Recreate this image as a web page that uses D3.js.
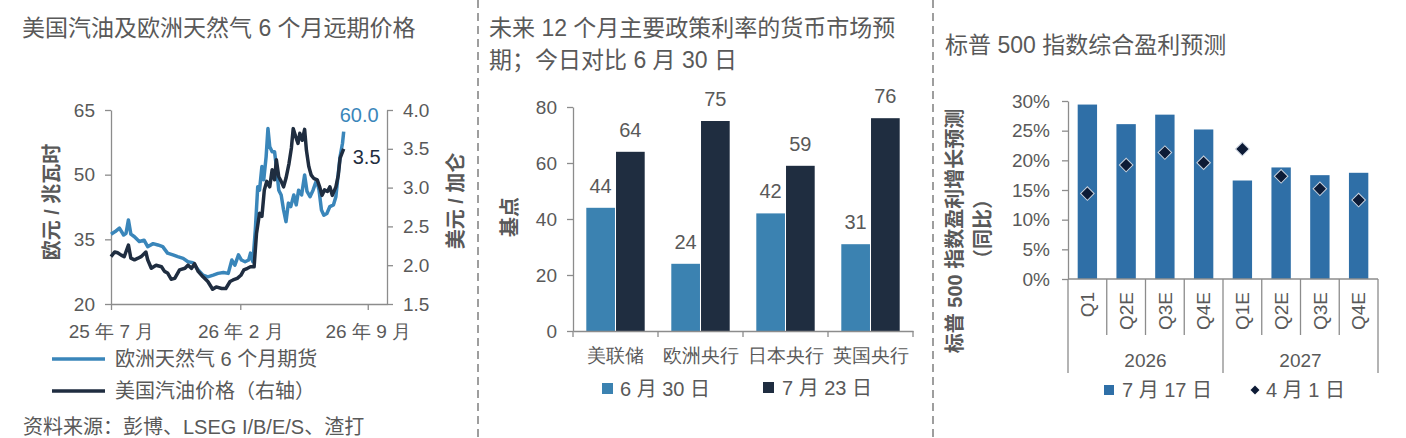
<!DOCTYPE html>
<html>
<head>
<meta charset="utf-8">
<script src="https://cdn.jsdelivr.net/npm/d3@7"></script>
<style>
  body { margin: 0; background: #fff; }
  svg { display: block; font-family: "Liberation Sans", Arial, "Noto Sans CJK SC", sans-serif; }
  .axis path, .axis line { stroke: #8c8c8c; stroke-width: 1.3; }
  .axis text { fill: #595959; font-size: 19px; font-family: inherit; }
</style>
</head>
<body>
<div id="chart"></div>
<script>
// ---- panel 1: gas / gasoline ----
const gasDates = ["2025-07-01","2025-07-08","2025-07-15","2025-07-22","2025-07-26","2025-07-30","2025-08-03","2025-08-09","2025-08-17","2025-08-25","2025-08-31","2025-09-09","2025-09-17","2025-09-25","2025-10-03","2025-10-12","2025-10-20","2025-10-29","2025-11-06","2025-11-14","2025-11-23","2025-12-01","2025-12-09","2025-12-18","2025-12-26","2026-01-04","2026-01-12","2026-01-18","2026-01-23","2026-01-29","2026-02-03","2026-02-09","2026-02-15","2026-02-18","2026-02-22","2026-02-26","2026-03-02","2026-03-05","2026-03-09","2026-03-12","2026-03-16","2026-03-19","2026-03-22","2026-03-26","2026-03-30","2026-04-02","2026-04-06","2026-04-10","2026-04-14","2026-04-18","2026-04-22","2026-04-26","2026-05-01","2026-05-05","2026-05-09","2026-05-14","2026-05-19","2026-05-23","2026-05-28","2026-06-02","2026-06-08","2026-06-12","2026-06-16","2026-06-20","2026-06-25","2026-06-30","2026-07-06","2026-07-10","2026-07-14","2026-07-17","2026-07-21","2026-07-23"];
const gasValues = [36.2,36.8,37.6,36.0,36.4,39.5,36.2,35.6,34.5,34.8,33.3,34.0,33.7,33.3,31.8,31.4,31.0,30.6,29.8,29.6,27.9,26.7,26.3,26.7,27.1,27.3,27.1,30.2,29.0,31.4,30.2,29.8,30.2,31.8,29.8,37.2,47.2,46.4,51.9,48.8,54.2,60.7,56.5,55.3,55.3,51.9,46.4,45.3,41.8,39.1,43.4,42.6,45.3,43.0,46.4,45.3,49.9,46.1,44.9,46.4,48.8,46.4,41.8,40.6,41.0,42.6,43.0,44.9,50.3,54.2,57.3,60.0];

const gasolineDates = ["2025-07-01","2025-07-07","2025-07-12","2025-07-18","2025-07-23","2025-07-30","2025-08-03","2025-08-09","2025-08-15","2025-08-20","2025-08-28","2025-08-31","2025-09-06","2025-09-14","2025-09-23","2025-09-28","2025-10-03","2025-10-09","2025-10-15","2025-10-23","2025-11-01","2025-11-06","2025-11-12","2025-11-17","2025-11-23","2025-12-01","2025-12-09","2025-12-17","2025-12-23","2026-01-01","2026-01-08","2026-01-15","2026-01-20","2026-01-27","2026-02-02","2026-02-07","2026-02-13","2026-02-18","2026-02-24","2026-02-28","2026-03-05","2026-03-09","2026-03-13","2026-03-17","2026-03-22","2026-03-26","2026-03-30","2026-04-02","2026-04-06","2026-04-10","2026-04-14","2026-04-18","2026-04-23","2026-04-27","2026-04-30","2026-05-04","2026-05-08","2026-05-11","2026-05-15","2026-05-19","2026-05-22","2026-05-26","2026-05-30","2026-06-03","2026-06-09","2026-06-13","2026-06-17","2026-06-21","2026-06-26","2026-06-30","2026-07-04","2026-07-10","2026-07-14","2026-07-17","2026-07-21","2026-07-23"];
const gasolineValues = [2.11,2.17,2.16,2.13,2.11,2.26,2.09,2.07,2.09,2.11,2.17,2.07,1.96,2.00,1.98,1.92,1.90,1.82,1.83,1.94,1.96,2.00,1.96,2.02,1.92,1.85,1.79,1.69,1.72,1.70,1.70,1.79,1.81,1.83,1.87,1.94,1.96,1.98,1.98,2.41,2.67,2.63,2.97,3.08,3.01,3.23,3.10,3.36,3.14,3.08,3.01,3.12,3.31,3.51,3.76,3.66,3.57,3.70,3.61,3.75,3.48,3.27,3.16,3.12,3.10,3.01,2.90,2.97,2.95,3.01,2.90,3.01,3.16,3.38,3.46,3.50];

const leftTicks = [20, 35, 50, 65];
const rightTicks = [1.5, 2.0, 2.5, 3.0, 3.5, 4.0];
const dateTicks = ["2025-07-01", "2026-02-01", "2026-09-01"];
const dateTickLabels = ["25 年 7 月", "26 年 2 月", "26 年 9 月"];

// ---- panel 2: policy rates ----
const banks = ["美联储", "欧洲央行", "日本央行", "英国央行"];
const june30 = [44, 24, 42, 31];
const july23 = [64, 75, 59, 76];
const bpTicks = [0, 20, 40, 60, 80];

// ---- panel 3: S&P 500 earnings ----
const quarters = ["Q1", "Q2E", "Q3E", "Q4E", "Q1E", "Q2E", "Q3E", "Q4E"];
const years = ["2026", "2027"];
const july17 = [29.4, 26.1, 27.7, 25.2, 16.6, 18.8, 17.5, 17.9];
const april1 = [14.4, 19.2, 21.3, 19.6, 21.9, 17.3, 15.2, 13.3];
const pctTicks = [0, 5, 10, 15, 20, 25, 30];

const BLUE = "#3a86ba";
const NAVY = "#1f2d40";
const BAR_BLUE = "#3b82b1";
const BAR_BLUE2 = "#2f6fa7";
const DIAMOND = "#0d1b36";
const TXT = "#595959";

const parseDate = d3.timeParse("%Y-%m-%d");

const svg = d3.select("#chart").append("svg")
    .attr("width", 1406)
    .attr("height", 438);

// dashed panel separators
[478, 933].forEach(x => {
    svg.append("line")
        .attr("x1", x).attr("x2", x)
        .attr("y1", 0).attr("y2", 438)
        .attr("stroke", "#7f7f7f")
        .attr("stroke-width", 1.5)
        .attr("stroke-dasharray", "8,5");
});

function addText(x, y, str, opts = {}) {
    return svg.append("text")
        .attr("x", x).attr("y", y)
        .attr("fill", opts.fill || TXT)
        .attr("font-size", opts.size || 20)
        .attr("font-weight", opts.weight || "normal")
        .attr("text-anchor", opts.anchor || "start")
        .text(str);
}

// titles
addText(22, 36, "美国汽油及欧洲天然气 6 个月远期价格", { size: 23 });
addText(489, 36, "未来 12 个月主要政策利率的货币市场预", { size: 23 });
addText(489, 68, "期；今日对比 6 月 30 日", { size: 23 });
addText(945, 53, "标普 500 指数综合盈利预测", { size: 23 });

// ================= panel 1 =================
function drawLines() {
    const left = 111, right = 387, top = 110, bottom = 304;

    const x = d3.scaleTime()
        .domain([parseDate("2025-07-01"), parseDate("2026-10-03")])
        .range([left, right]);
    const yL = d3.scaleLinear().domain([20, 65]).range([bottom, top]);
    const yR = d3.scaleLinear().domain([1.5, 4.0]).range([bottom, top]);

    svg.append("g").attr("class", "axis")
        .attr("transform", `translate(${left},0)`)
        .call(d3.axisLeft(yL).tickValues(leftTicks).tickSize(6).tickPadding(10).tickSizeOuter(0))
        .selectAll("text").attr("font-size", 20);

    svg.append("g").attr("class", "axis")
        .attr("transform", `translate(${right},0)`)
        .call(d3.axisRight(yR).tickValues(rightTicks).tickSize(6).tickPadding(10)
            .tickFormat(d3.format(".1f")).tickSizeOuter(0))
        .selectAll("text").attr("font-size", 20);

    svg.append("g").attr("class", "axis")
        .attr("transform", `translate(0,${bottom})`)
        .call(d3.axisBottom(x).tickValues(dateTicks.map(parseDate)).tickSize(6).tickPadding(15)
            .tickFormat((d, i) => dateTickLabels[i]).tickSizeOuter(0))
        .selectAll("text").attr("font-size", 20);

    const gas = gasDates.map((d, i) => ({ date: parseDate(d), value: gasValues[i] }));
    const gasoline = gasolineDates.map((d, i) => ({ date: parseDate(d), value: gasolineValues[i] }));

    svg.append("path").datum(gas)
        .attr("fill", "none").attr("stroke", BLUE).attr("stroke-width", 3.5)
        .attr("stroke-linejoin", "round")
        .attr("d", d3.line().x(d => x(d.date)).y(d => yL(d.value)));

    svg.append("path").datum(gasoline)
        .attr("fill", "none").attr("stroke", NAVY).attr("stroke-width", 3.5)
        .attr("stroke-linejoin", "round")
        .attr("d", d3.line().x(d => x(d.date)).y(d => yR(d.value)));

    // end labels
    const lastGas = gas[gas.length - 1], lastGasoline = gasoline[gasoline.length - 1];
    addText(x(lastGas.date) - 4, yL(lastGas.value) - 10, lastGas.value.toFixed(1), { fill: BLUE });
    addText(x(lastGasoline.date) + 9, yR(lastGasoline.value) + 15, lastGasoline.value.toFixed(1), { fill: NAVY });

    // axis titles
    svg.append("text")
        .attr("transform", `translate(59,${(top + bottom) / 2 - 5}) rotate(-90)`)
        .attr("text-anchor", "middle").attr("fill", TXT).attr("font-size", 20).attr("font-weight", "bold")
        .text("欧元 / 兆瓦时");
    svg.append("text")
        .attr("transform", `translate(463,${(top + bottom) / 2 - 6}) rotate(-90)`)
        .attr("text-anchor", "middle").attr("fill", TXT).attr("font-size", 20).attr("font-weight", "bold")
        .text("美元 / 加仑");

    // legend
    const legend = [["欧洲天然气 6 个月期货", BLUE], ["美国汽油价格（右轴）", NAVY]];
    legend.forEach((l, i) => {
        const ly = 359 + i * 32;
        svg.append("line").attr("x1", 52).attr("x2", 105).attr("y1", ly).attr("y2", ly)
            .attr("stroke", l[1]).attr("stroke-width", 3.5);
        addText(115, ly + 7, l[0]);
    });

    addText(23, 434, "资料来源：彭博、LSEG I/B/E/S、渣打");
}

// ================= panel 2 =================
function drawBars() {
    const left = 573, right = 913, top = 107, bottom = 331;

    const x0 = d3.scaleBand().domain(banks).range([left, right]).padding(0);
    const x1 = d3.scaleBand().domain(["june30", "july23"]).range([13.3, 71.7]).paddingInner(0.035);
    const y = d3.scaleLinear().domain([0, 80]).range([bottom, top]);
    const color = d3.scaleOrdinal().domain(["june30", "july23"]).range([BAR_BLUE, NAVY]);

    const rows = banks.map((b, i) => ({ bank: b, june30: june30[i], july23: july23[i] }));

    const groups = svg.selectAll(".bank")
        .data(rows)
        .enter().append("g")
        .attr("transform", d => `translate(${x0(d.bank)},0)`);

    const bars = groups.selectAll("g")
        .data(d => ["june30", "july23"].map(k => ({ key: k, value: d[k] })))
        .enter().append("g");

    bars.append("rect")
        .attr("x", d => x1(d.key))
        .attr("y", d => y(d.value))
        .attr("width", x1.bandwidth())
        .attr("height", d => bottom - y(d.value))
        .attr("fill", d => color(d.key));

    bars.append("text")
        .attr("x", d => x1(d.key) + x1.bandwidth() / 2)
        .attr("y", d => y(d.value) - 15)
        .attr("text-anchor", "middle")
        .attr("fill", TXT).attr("font-size", 20)
        .text(d => d.value);

    svg.append("g").attr("class", "axis")
        .attr("transform", `translate(${left},0)`)
        .call(d3.axisLeft(y).tickValues(bpTicks).tickSize(6).tickPadding(10).tickSizeOuter(0))
        .selectAll("text").attr("font-size", 20);

    // category axis with ticks at band edges
    const xAxis = svg.append("g").attr("class", "axis")
        .attr("transform", `translate(0,${bottom})`)
        .call(d3.axisBottom(x0).tickSize(0).tickPadding(18).tickSizeOuter(0));
    xAxis.selectAll("text").attr("font-size", 20);
    xAxis.selectAll(".edge")
        .data(banks.map(b => x0(b)).concat([right]))
        .enter().append("line")
        .attr("x1", d => d).attr("x2", d => d)
        .attr("y1", 0).attr("y2", 6);

    svg.append("text")
        .attr("transform", `translate(517,217) rotate(-90)`)
        .attr("text-anchor", "middle").attr("fill", TXT).attr("font-size", 20).attr("font-weight", "bold")
        .text("基点");

    // legend
    svg.append("rect").attr("x", 602).attr("y", 383).attr("width", 11).attr("height", 11).attr("fill", BAR_BLUE);
    addText(620, 396, "6 月 30 日");
    svg.append("rect").attr("x", 763).attr("y", 382).attr("width", 11).attr("height", 11).attr("fill", NAVY);
    addText(782, 395, "7 月 23 日");
}

// ================= panel 3 =================
function drawEarnings() {
    const left = 1068, right = 1378, top = 101, bottom = 279;
    const idx = quarters.map((q, i) => i);

    const x = d3.scaleBand().domain(idx).range([left, right]).paddingInner(0.5).paddingOuter(0.25);
    const y = d3.scaleLinear().domain([0, 30]).range([bottom, top]);
    const step = x.step();

    svg.selectAll(".earn")
        .data(idx)
        .enter().append("rect")
        .attr("x", i => x(i))
        .attr("y", i => y(july17[i]))
        .attr("width", x.bandwidth())
        .attr("height", i => bottom - y(july17[i]))
        .attr("fill", BAR_BLUE2);

    svg.selectAll(".dia")
        .data(idx)
        .enter().append("path")
        .attr("transform", i => `translate(${x(i) + x.bandwidth() / 2},${y(april1[i])}) rotate(45)`)
        .attr("d", d3.symbol(d3.symbolSquare, 92)())
        .attr("fill", DIAMOND)
        .attr("stroke", "#c9d2de")
        .attr("stroke-width", 1);

    svg.append("g").attr("class", "axis")
        .attr("transform", `translate(${left},0)`)
        .call(d3.axisLeft(y).tickValues(pctTicks).tickSize(6).tickPadding(12)
            .tickFormat(d => d + "%").tickSizeOuter(0))
        .selectAll("text").attr("font-size", 20);

    // multi-level category axis
    const g = svg.append("g").attr("class", "axis");
    g.append("line").attr("x1", left).attr("x2", right).attr("y1", bottom).attr("y2", bottom);
    d3.range(quarters.length + 1).forEach(i => {
        const xx = left + i * step;
        const long = i % 4 === 0;
        g.append("line").attr("x1", xx).attr("x2", xx)
            .attr("y1", bottom).attr("y2", long ? 373 : 335);
    });
    g.selectAll(".q")
        .data(idx)
        .enter().append("text")
        .attr("transform", i => `translate(${x(i) + x.bandwidth() / 2},292) rotate(-90)`)
        .attr("text-anchor", "end")
        .attr("dy", "0.35em")
        .attr("font-size", 21)
        .text(i => quarters[i]);
    g.selectAll(".yr")
        .data(years)
        .enter().append("text")
        .attr("x", (d, i) => left + (i * 4 + 2) * step)
        .attr("y", 367)
        .attr("text-anchor", "middle")
        .attr("font-size", 20)
        .text(d => d);

    svg.append("text")
        .attr("transform", `translate(962,231) rotate(-90)`)
        .attr("text-anchor", "middle").attr("fill", TXT).attr("font-size", 20).attr("font-weight", "bold")
        .text("标普 500 指数盈利增长预测");
    svg.append("text")
        .attr("transform", `translate(990,229) rotate(-90)`)
        .attr("text-anchor", "middle").attr("fill", TXT).attr("font-size", 20).attr("font-weight", "bold")
        .text("（同比）");

    // legend
    svg.append("rect").attr("x", 1104).attr("y", 385).attr("width", 10).attr("height", 10).attr("fill", BAR_BLUE2);
    addText(1122, 397, "7 月 17 日");
    svg.append("path")
        .attr("transform", "translate(1255,390) rotate(45)")
        .attr("d", d3.symbol(d3.symbolSquare, 40)())
        .attr("fill", DIAMOND);
    addText(1266, 397, "4 月 1 日");
}

drawLines();
drawBars();
drawEarnings();
</script>
</body>
</html>
